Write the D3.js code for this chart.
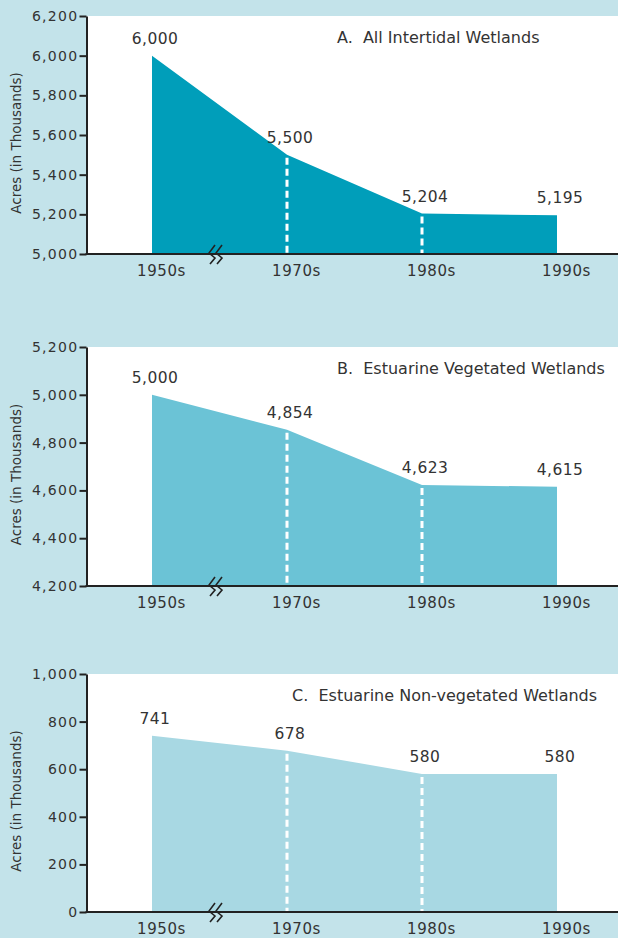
<!DOCTYPE html>
<html>
<head>
<meta charset="utf-8">
<script src="https://cdn.jsdelivr.net/npm/d3@7"></script>
<style>
  html, body { margin: 0; padding: 0; background: #c3e3ea; }
  svg { display: block; font-family: "DejaVu Sans", sans-serif; }
</style>
</head>
<body>
<script>
const WIDTH_SVG = 618;
const HEIGHT_SVG = 938;

// data
const decades = ["1950s", "1970s", "1980s", "1990s"];
const allIntertidal = [6000, 5500, 5204, 5195];
const vegetated = [5000, 4854, 4623, 4615];
const nonVegetated = [741, 678, 580, 580];

const titles = [
    "A.  All Intertidal Wetlands",
    "B.  Estuarine Vegetated Wetlands",
    "C.  Estuarine Non-vegetated Wetlands"
];
const ticksA = [5000, 5200, 5400, 5600, 5800, 6000, 6200];
const ticksB = [4200, 4400, 4600, 4800, 5000, 5200];
const ticksC = [0, 200, 400, 600, 800, 1000];

// layout
const AXIS_X = 86.5;
const FIRST_X = 152;
const LAST_X = 557;

const panels = [
    { top: 16, bottom: 254, values: allIntertidal, ticks: ticksA, title: titles[0], titleX: 337, fill: "#009eba" },
    { top: 347, bottom: 586, values: vegetated, ticks: ticksB, title: titles[1], titleX: 337, fill: "#6bc3d6" },
    { top: 674, bottom: 912, values: nonVegetated, ticks: ticksC, title: titles[2], titleX: 292, fill: "#a8d8e3" }
];

const svg = d3.select("body")
    .append("svg")
        .attr("width", WIDTH_SVG)
        .attr("height", HEIGHT_SVG);

const x = d3.scalePoint()
    .domain(decades)
    .range([FIRST_X, LAST_X]);

const fmt = d3.format(",");

function drawPanel(p) {
    const g = svg.append("g");
    const ticks = p.ticks;

    const y = d3.scaleLinear()
        .domain([ticks[0], ticks[ticks.length - 1]])
        .range([p.bottom, p.top]);

    // white plot area
    g.append("rect")
        .attr("x", AXIS_X)
        .attr("y", p.top)
        .attr("width", WIDTH_SVG - AXIS_X)
        .attr("height", p.bottom - p.top)
        .attr("fill", "#fff");

    const rows = decades.map((d, i) => ({ d: d, v: p.values[i] }));

    const area = d3.area()
        .x(r => x(r.d))
        .y0(p.bottom)
        .y1(r => y(r.v));

    g.append("path")
        .datum(rows)
        .attr("d", area)
        .attr("fill", p.fill);

    // dashed drop lines for the middle decades
    g.selectAll(".drop")
        .data(rows.slice(1, -1))
        .join("line")
            .attr("x1", r => x(r.d))
            .attr("x2", r => x(r.d))
            .attr("y1", r => y(r.v) + 3)
            .attr("y2", p.bottom)
            .attr("stroke", "#fff")
            .attr("stroke-width", 3)
            .attr("stroke-dasharray", "7,4");

    // value labels
    g.selectAll(".val")
        .data(rows)
        .join("text")
            .attr("x", r => x(r.d) + 3)
            .attr("y", r => y(r.v) - 12)
            .attr("text-anchor", "middle")
            .attr("font-size", 15.5)
            .attr("letter-spacing", 0.4)
            .attr("fill", "#333")
            .text(r => fmt(r.v));

    // title
    g.append("text")
        .attr("x", p.titleX)
        .attr("y", p.top + 27)
        .attr("font-size", 16)
        .attr("fill", "#333")
        .style("white-space", "pre")
        .text(p.title);

    // y axis
    const yAxis = g.append("g")
        .attr("transform", `translate(${AXIS_X},0)`)
        .call(d3.axisLeft(y).tickValues(ticks).tickFormat(fmt).tickSize(7).tickSizeOuter(0));
    yAxis.select(".domain").attr("stroke", "#222").attr("stroke-width", 2);
    yAxis.selectAll(".tick line").attr("stroke", "#222").attr("stroke-width", 2);
    yAxis.selectAll(".tick text")
        .attr("font-family", "DejaVu Sans, sans-serif")
        .attr("font-size", 14)
        .attr("letter-spacing", 1.3)
        .attr("fill", "#333")
        .attr("x", -8);

    // baseline
    g.append("line")
        .attr("x1", AXIS_X - 1)
        .attr("x2", WIDTH_SVG)
        .attr("y1", p.bottom)
        .attr("y2", p.bottom)
        .attr("stroke", "#222")
        .attr("stroke-width", 2);

    // x labels
    const xAxis = g.append("g")
        .attr("transform", `translate(0,${p.bottom})`)
        .call(d3.axisBottom(x).tickSize(0));
    xAxis.select(".domain").remove();
    xAxis.selectAll(".tick text")
        .attr("font-family", "DejaVu Sans, sans-serif")
        .attr("font-size", 15)
        .attr("letter-spacing", 0.6)
        .attr("fill", "#333")
        .attr("dx", 9)
        .attr("dy", 0)
        .attr("y", 22);

    // axis break mark
    const zig = d3.line();
    [0, 7].forEach(off => {
        const cx = 213 + off;
        g.append("path")
            .attr("d", zig([[cx + 2, p.bottom - 9], [cx - 4, p.bottom - 1], [cx + 2, p.bottom + 4], [cx - 3, p.bottom + 10]]))
            .attr("fill", "none")
            .attr("stroke", "#222")
            .attr("stroke-width", 1.6);
    });

    // y axis title
    g.append("text")
        .attr("transform", `translate(21,${(p.top + p.bottom) / 2 + 8}) rotate(-90)`)
        .attr("text-anchor", "middle")
        .attr("font-size", 13.5)
        .attr("fill", "#333")
        .text("Acres (in Thousands)");
}

panels.forEach(drawPanel);
</script>
</body>
</html>
